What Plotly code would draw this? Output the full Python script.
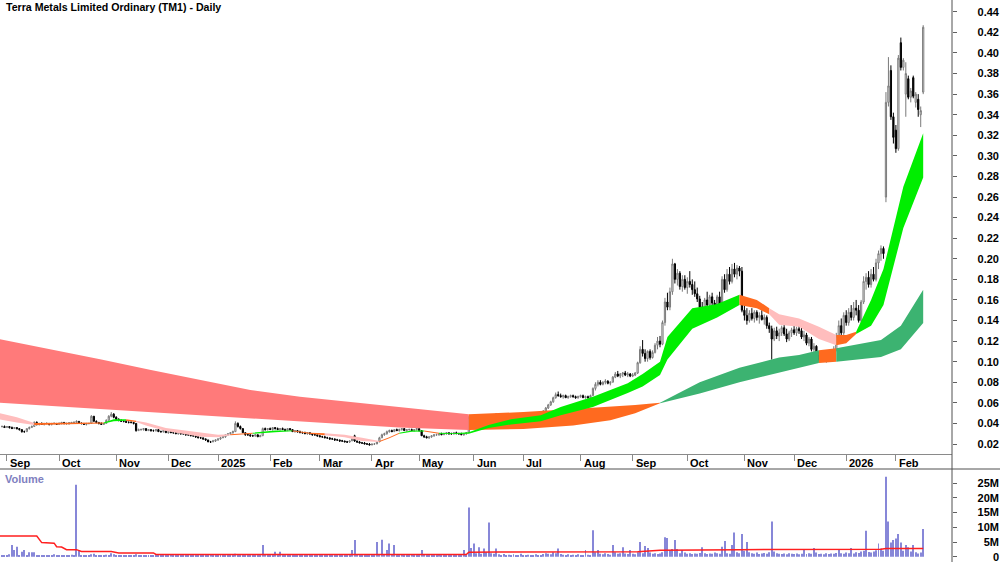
import pandas as pd
import plotly.graph_objects as go

# ---------------- data (prices in thousandths of a dollar) ----------------
HOLIDAYS = ["2024-12-25", "2024-12-26", "2025-01-01", "2025-01-27", "2025-04-18",
            "2025-04-21", "2025-04-25", "2025-06-09", "2025-12-25", "2025-12-26",
            "2026-01-01", "2026-01-26"]
MONTH_LABELS = ["Sep", "Oct", "Nov", "Dec", "2025", "Feb", "Mar", "Apr", "May", "Jun",
                "Jul", "Aug", "Sep", "Oct", "Nov", "Dec", "2026", "Feb"]

OPEN = [
    37,37,36,37,36,35,36,35,34,32, 32,35,36,37,41,39,40,39,40,40,
    39,40,40,39,40,41,40,40,40,41, 41,42,40,40,39,40,40,47,42,41,
    40,39,40,43,47,49,46,44,43,42, 42,41,41,41,40,33,34,34,35,33,
    34,33,33,34,32,32,33,31,32,31, 31,30,31,30,30,29,29,28,28,27,
    26,26,25,24,22,22,23,24,25,26, 27,29,30,31,32,40,37,35,31,29,
    29,28,28,29,27,28,35,34,35,34, 36,35,34,35,34,33,35,34,32,33,
    32,31,31,30,31,30,29,29,28,27, 27,26,26,25,25,24,24,23,23,22,
    22,23,28,23,22,21,21,20,20,19, 20,20,22,26,29,30,32,33,32,34,
    33,34,35,33,34,34,33,34,35,33, 28,27,26,27,28,29,29,30,29,30,
    31,30,30,31,30,30,29,30,31,46, 36,37,36,38,37,39,44,46,47,46,
    49,47,48,49,47,48,47,46,47,45, 42,43,45,46,46,47,46,48,49,52,
    55,58,61,65,68,67,66,67,65,66, 67,66,65,66,67,65,66,65,67,74,
    78,80,78,80,81,79,80,85,88,86, 88,89,87,88,86,87,89,99,112,108,
    103,110,104,109,116,120,117,138,158,153, 168,195,180,186,173,180,172,178,175,170,
    166,161,153,150,160,155,163,157,155,163, 156,180,170,185,178,190,185,191,188,150,
    145,140,147,142,148,143,145,141,143,135, 132,122,130,125,128,133,127,122,128,131,
    128,132,130,124,126,118,122,112,115,106, 102,105,101,104,103,106,112,125,135,128,
    145,138,148,143,152,150,140,158,178,182, 175,185,180,196,205,210,260,352,383,338,
    325,307,410,386,360,375,357,376,352,355, 340,362]
HIGH = [
    38,38,37,37,37,36,36,35,34,33, 35,37,38,42,42,40,41,40,41,40,
    40,41,40,41,41,41,40,41,41,42, 43,42,41,40,40,40,48,47,43,41,
    41,40,44,48,51,50,47,45,44,43, 43,42,42,41,40,35,35,35,35,34,
    34,34,34,34,33,33,33,32,33,32, 32,31,31,31,30,30,30,29,28,28,
    27,26,25,24,23,24,24,25,27,28, 29,30,31,33,42,41,38,35,31,30,
    29,29,29,29,29,36,36,35,36,36, 36,36,35,36,35,35,35,34,33,33,
    33,32,32,31,31,30,30,29,29,28, 28,27,26,26,25,25,24,24,23,23,
    23,26,29,23,23,22,22,21,21,20, 21,22,27,30,31,33,34,34,34,35,
    35,35,35,34,35,35,34,35,35,33, 29,28,27,28,29,30,30,31,31,31,
    31,31,31,32,31,31,30,31,47,46, 38,38,39,39,39,45,47,48,49,50,
    50,49,50,50,49,49,48,48,48,46, 44,46,47,47,48,48,48,50,53,56,
    59,62,66,70,71,69,68,68,67,68, 68,67,67,68,68,67,67,68,75,80,
    82,82,81,83,82,81,86,90,91,89, 90,91,90,89,89,90,100,115,121,112,
    111,112,111,118,124,125,140,162,167,172, 200,196,190,188,184,184,182,188,180,178,
    172,164,158,162,168,165,167,160,165,168, 183,185,190,192,195,196,194,193,192,160,
    152,150,152,150,150,148,150,146,145,138, 135,133,134,132,135,136,132,130,133,136,
    134,137,133,130,128,124,124,118,116,110, 108,108,106,108,108,115,128,140,142,148,
    150,152,155,158,160,155,160,183,186,188, 190,192,200,208,213,212,362,396,388,342,
    330,398,415,395,391,378,366,378,362,360, 348,427]
LOW = [
    36,36,36,35,35,35,34,33,31,31, 32,34,36,37,38,38,39,38,39,38,
    38,39,39,39,39,39,39,39,40,40, 40,40,39,39,38,39,40,42,40,39,
    39,39,40,43,46,45,43,42,42,41, 41,40,40,39,32,33,33,33,33,33,
    32,32,32,32,31,31,31,30,31,30, 30,29,29,29,28,28,28,27,26,26,
    25,24,23,22,21,22,22,23,24,26, 26,28,29,30,32,36,34,31,28,28,
    27,27,27,27,27,28,33,33,34,33, 34,34,33,34,33,33,33,32,31,31,
    31,30,30,29,29,28,28,27,27,26, 26,25,24,24,23,23,22,22,22,21,
    21,23,22,21,21,20,20,19,19,19, 19,20,22,26,28,29,31,32,32,33,
    32,33,33,32,33,33,32,33,32,28, 26,26,25,26,27,28,28,29,29,29,
    29,29,29,30,29,29,28,29,31,35, 35,35,36,36,36,38,43,44,45,45,
    46,46,47,47,46,46,45,45,45,41, 41,43,44,45,45,45,45,47,48,51,
    54,57,60,64,66,65,64,65,64,65, 65,64,64,65,65,64,64,65,67,72,
    76,77,77,78,78,77,80,84,85,84, 85,86,85,85,85,86,88,98,105,100,
    100,102,103,108,112,114,116,135,150,150, 165,176,174,170,168,170,166,172,165,163,
    158,150,147,148,153,152,155,152,153,153, 155,167,168,175,176,182,180,183,148,140,
    136,138,140,138,140,137,140,136,132,128, 102,120,122,120,125,125,119,120,124,126,
    125,127,122,120,116,115,110,108,104,100, 100,100,99,101,100,103,110,122,125,126,
    135,135,140,140,145,138,138,156,170,172, 172,178,178,190,198,200,255,348,335,312,
    303,305,383,383,338,355,352,356,347,338, 328,360]
CLOSE = [
    37,36,37,36,35,36,35,34,32,32, 35,36,37,41,39,40,39,40,40,39,
    40,40,39,40,41,40,40,40,41,41, 42,40,40,39,40,40,47,42,41,40,
    39,40,43,47,49,46,44,43,42,42, 41,41,41,40,33,34,34,35,33,34,
    33,33,34,32,32,33,31,32,31,31, 30,31,30,30,29,29,28,28,27,26,
    26,25,24,22,22,23,24,25,26,27, 29,30,31,32,40,37,35,31,29,29,
    28,28,29,27,28,35,34,35,34,36, 35,34,35,34,33,35,34,32,33,32,
    31,31,30,31,30,29,29,28,27,27, 26,26,25,25,24,24,23,23,22,22,
    23,25,23,22,21,21,20,20,19,20, 20,22,26,29,30,32,33,32,34,33,
    34,35,33,34,34,33,34,35,33,28, 27,26,27,28,29,29,30,29,30,31,
    30,30,31,30,30,29,30,31,46,36, 37,36,38,37,39,44,46,47,46,49,
    47,48,49,47,48,47,46,47,45,42, 43,45,46,46,47,46,48,49,52,55,
    58,61,65,68,67,66,67,65,66,67, 66,65,66,67,65,66,65,67,74,78,
    80,78,80,81,79,80,85,88,86,88, 89,87,88,86,87,89,99,112,108,103,
    110,104,109,116,120,117,138,158,153,168, 195,180,186,173,180,172,178,175,170,166,
    161,153,150,160,155,163,157,155,163,156, 180,170,185,178,190,185,191,188,150,145,
    140,147,142,148,143,145,141,143,135,132, 122,130,125,128,133,127,122,128,131,128,
    132,130,124,126,118,122,112,115,106,102, 105,101,104,103,106,112,125,135,128,145,
    138,148,143,152,150,140,158,178,182,175, 185,180,196,205,210,205,352,368,338,318,
    307,395,386,393,380,357,363,358,360,345, 344,425]
# volume in units of 100,000 shares
VOLUME = [
    6,4,5,8,40,23,34,5,17,23, 6,15,15,15,5,3,4,6,3,5,
    4,8,3,5,4,6,3,4,7,5, 245,23,6,4,5,3,8,10,6,4,
    3,5,7,4,12,8,5,4,3,5, 4,6,3,4,8,5,4,3,6,4,
    5,3,4,6,3,5,4,3,7,4, 5,3,4,6,3,4,5,3,4,6,
    3,5,4,3,8,4,5,3,6,4, 3,5,4,6,10,5,4,3,5,4,
    3,6,4,5,3,40,8,5,4,6, 17,5,17,4,6,3,5,4,3,6,
    4,5,3,4,6,3,5,4,3,5, 4,6,3,5,4,3,6,4,5,3,
    6,23,57,8,5,4,6,3,5,4, 6,50,9,58,8,23,45,7,40,6,
    5,8,4,6,5,7,4,5,6,23, 8,5,4,6,5,3,7,4,5,6,
    4,5,6,3,5,4,23,6,167,30, 45,12,32,10,28,15,116,12,10,28,
    8,6,9,5,7,6,8,5,4,10, 6,5,7,4,6,8,5,6,9,12,
    10,8,15,12,28,9,7,6,8,5, 7,6,8,5,6,23,7,6,90,15,
    23,10,8,12,9,7,40,15,10,12, 32,11,9,23,10,8,15,50,12,36,
    30,14,10,12,9,11,15,66,64,23, 26,57,26,12,23,14,10,12,9,11,
    10,13,32,12,9,11,10,14,12,10, 34,53,12,10,40,82,15,12,77,20,
    50,15,12,10,14,9,11,13,10,15, 120,18,12,10,9,11,8,12,10,9,
    11,8,10,26,9,12,10,30,14,9, 10,8,12,9,11,10,13,26,12,10,
    14,12,30,11,15,13,18,20,88,16, 14,18,22,45,28,20,272,120,48,57,
    62,77,48,20,40,32,18,40,15,11, 14,94]

# volume moving average (millions), read at sample days
VOL_MA_X = [-1, 14, 16, 21, 22, 24, 26, 30, 32, 44, 47, 61, 62, 187, 188, 200, 256, 265, 297, 354, 356, 371]
VOL_MA = [7.0, 7.0, 4.8, 4.6, 3.4, 3.3, 2.4, 2.4, 1.8, 1.8, 1.3, 1.3, 0.75, 0.75, 1.5, 1.6, 1.7, 2.2, 2.4, 2.5, 2.8, 2.8]

# short-term ribbon edges (thousandths), sampled
ST_X = [-1, 6, 13, 25, 41, 45, 50, 54, 58, 66, 80, 87, 92, 101, 110, 117, 124, 130, 138, 145,
        152, 156, 160, 165, 170, 176, 182, 188, 196, 205, 217, 225, 238, 252, 258, 265, 268, 278,
        288, 297, 304, 309, 313, 321, 329, 336, 340, 344, 350, 355, 363, 371]
ST_HI = [50, 46, 40.5, 40.5, 41, 44, 44, 42.5, 41, 35.5, 30.7, 29, 29.5, 31, 33, 33, 31, 30.5, 29, 26,
         23, 26.5, 31, 33, 33, 31, 30.5, 31.5, 38.5, 44, 48, 56, 66, 79, 88, 100, 124, 152,
         156, 165, 160, 152, 146, 142, 134, 126, 126, 129, 160, 190, 270, 322]
ST_LO = [44, 41, 38.5, 39.5, 40, 42, 42.5, 41.5, 38, 32.6, 27, 26.5, 28.5, 30, 31.5, 32.3, 30, 28.5, 26.5, 23,
         22, 25.5, 30, 32, 32.2, 30, 29.8, 30, 35.5, 39, 42, 48, 56, 69.6, 76, 87, 102, 132,
         143, 155, 152, 146, 136, 134, 122, 116, 118, 127, 135, 155, 230, 279]
ST_SEGS = [(-1, 13, "bear"), (13, 41, "turn"), (41, 50, "bull"), (50, 54, "turn"), (54, 92, "bear"),
           (92, 101, "turn"), (101, 117, "bull"), (117, 130, "turn"), (130, 152, "bear"),
           (152, 160, "turn"), (160, 170, "bull"), (170, 176, "turn"), (176, 297, "bull"),
           (297, 309, "turn"), (309, 336, "bear"), (336, 344, "turn"), (344, 371, "bull")]

# long-term ribbon edges (thousandths), sampled
LT_X = [-1, 20, 40, 60, 80, 100, 120, 140, 160, 188, 210, 230, 245, 255, 265, 281, 297, 313, 321,
        329, 336, 354, 362, 371]
LT_HI = [122, 112, 102, 92, 82, 72.5, 66, 61, 56, 49, 51, 54, 56, 58, 60, 80, 94, 104, 106.5,
         111, 113, 121, 135, 170]
LT_LO = [60, 57, 54, 51, 48, 44.3, 42, 39, 36, 33.5, 34.5, 38, 43, 50, 59.5, 69, 80, 90, 94,
         98.7, 100, 104.5, 112, 137.5]
LT_SEGS = [(-1, 188, "bear"), (188, 265, "turn"), (265, 329, "bull"), (329, 336, "turn"), (336, 371, "bull")]

# ---------------- styles ----------------
ST_COLORS = {"bear": "#ffbdbd", "turn": "#ff6a1f", "bull": "#00ee00"}
LT_COLORS = {"bear": "#ff7a7a", "turn": "#ff6a1f", "bull": "#3cb371"}
FONT = "Liberation Sans, Arial, sans-serif"
W, H = 1000, 562
PLOT_RIGHT = 952 / W
PRICE_BOTTOM = 1 - 454 / H
VOL_TOP = 1 - 469 / H

dates = [d for d in pd.bdate_range("2024-08-29", "2026-02-17") if d.strftime("%Y-%m-%d") not in HOLIDAYS]
X = list(range(len(dates)))
assert len(X) == len(OPEN) == len(HIGH) == len(LOW) == len(CLOSE) == len(VOLUME), (len(X), len(OPEN), len(HIGH), len(LOW), len(CLOSE), len(VOLUME))
month_idx = [k for k in range(1, len(dates)) if dates[k].month != dates[k - 1].month]

fig = go.Figure()


def add_band(xs, hi, lo, segs, colors):
    for a, b, kind in segs:
        ks = [k for k in range(len(xs)) if a <= xs[k] <= b]
        px = [xs[k] for k in ks] + [xs[k] for k in reversed(ks)]
        py = [hi[k] / 1000 for k in ks] + [lo[k] / 1000 for k in reversed(ks)]
        fig.add_trace(go.Scatter(x=px, y=py, fill="toself", fillcolor=colors[kind], mode="lines",
                                 line=dict(width=0, color=colors[kind]), hoverinfo="skip",
                                 showlegend=False, xaxis="x", yaxis="y"))


add_band(LT_X, LT_HI, LT_LO, LT_SEGS, LT_COLORS)
add_band(ST_X, ST_HI, ST_LO, ST_SEGS, ST_COLORS)

fig.add_trace(go.Candlestick(
    x=X, open=[v / 1000 for v in OPEN], high=[v / 1000 for v in HIGH],
    low=[v / 1000 for v in LOW], close=[v / 1000 for v in CLOSE],
    increasing=dict(line=dict(color="#7a7a7a", width=1), fillcolor="#ffffff"),
    decreasing=dict(line=dict(color="#000000", width=1), fillcolor="#000000"),
    whiskerwidth=0, showlegend=False, hoverinfo="skip", xaxis="x", yaxis="y"))

fig.add_trace(go.Bar(x=X, y=[v * 1e5 for v in VOLUME], width=0.4,
                     marker=dict(color="#8787d8", line=dict(width=0)),
                     showlegend=False, hoverinfo="skip", xaxis="x2", yaxis="y2"))
fig.add_trace(go.Scatter(x=VOL_MA_X, y=[v * 1e6 for v in VOL_MA], mode="lines",
                         line=dict(color="#ff1f1f", width=1.5), showlegend=False,
                         hoverinfo="skip", xaxis="x2", yaxis="y2"))
# invisible traces to carry the label axes
fig.add_trace(go.Scatter(x=[None], y=[None], xaxis="x", yaxis="y3", showlegend=False))
fig.add_trace(go.Scatter(x=[None], y=[None], xaxis="x2", yaxis="y4", showlegend=False))

xr = [(0 - 2) / 2.483, (952 - 2) / 2.483]
price_ticks = [round(0.02 * k, 2) for k in range(1, 23)]
vol_ticks = [0, 5e6, 10e6, 15e6, 20e6, 25e6]
vol_text = ["0", "5M", "10M", "15M", "20M", "25M"]
yr = [0.02 - 10 / 1029, 0.02 + 444 / 1029]
vr = [-(562 - 556.7) / 2.94 * 1e6, (556.7 - 469) / 2.94 * 1e6]

fig.update_layout(
    width=W, height=H, margin=dict(l=0, r=0, t=0, b=0),
    paper_bgcolor="white", plot_bgcolor="white",
    font=dict(family=FONT, size=11, color="black"),
    showlegend=False,
    xaxis=dict(domain=[0, PLOT_RIGHT], range=xr, anchor="y", tickvals=month_idx, ticks="outside",
               ticklen=6, tickcolor="#8a8a8a", showticklabels=False, showline=True,
               linecolor="#8a8a8a", linewidth=1, showgrid=False, zeroline=False,
               rangeslider=dict(visible=False)),
    xaxis2=dict(domain=[0, PLOT_RIGHT], range=xr, anchor="y2", showticklabels=False,
                showgrid=False, zeroline=False, ticks=""),
    yaxis=dict(domain=[PRICE_BOTTOM, 1], range=yr, anchor="x", side="right", tickvals=price_ticks,
               ticks="outside", ticklen=4, tickcolor="#606060", showticklabels=False,
               showgrid=False, zeroline=False),
    yaxis3=dict(overlaying="y", anchor="free", position=0.999, side="left", range=yr,
                tickvals=price_ticks, ticktext=["%.2f" % v for v in price_ticks], ticks="",
                tickfont=dict(family=FONT, size=11, color="black", weight="bold"),
                ticklabeloverflow="allow",
                showgrid=False, zeroline=False, showline=False),
    yaxis2=dict(domain=[0, VOL_TOP], range=vr, anchor="x2", side="right", tickvals=vol_ticks,
                ticks="outside", ticklen=4, tickcolor="#606060", showticklabels=False,
                showgrid=False, zeroline=False),
    yaxis4=dict(overlaying="y2", anchor="free", position=0.999, side="left", range=vr,
                tickvals=vol_ticks, ticktext=vol_text, ticks="",
                tickfont=dict(family=FONT, size=11, color="black", weight="bold"),
                ticklabeloverflow="allow",
                showgrid=False, zeroline=False, showline=False),
)

shapes = [
    dict(type="line", xref="paper", yref="paper", x0=PLOT_RIGHT, x1=PLOT_RIGHT, y0=0, y1=1,
         line=dict(color="#505050", width=1)),
    dict(type="line", xref="paper", yref="paper", x0=0, x1=1, y0=VOL_TOP, y1=VOL_TOP,
         line=dict(color="#505050", width=1)),
]
fig.update_layout(shapes=shapes)

annotations = [
    dict(text="Terra Metals Limited Ordinary (TM1) - Daily", xref="paper", yref="paper",
         x=4 / W, y=1 - 7 / H, xanchor="left", yanchor="middle", showarrow=False,
         font=dict(family=FONT, size=10.6, color="black", weight="bold")),
    dict(text="Volume", xref="paper", yref="paper", x=3 / W, y=1 - 479 / H, xanchor="left",
         yanchor="middle", showarrow=False,
         font=dict(family=FONT, size=11, color="#8080c0", weight="bold")),
]
for k, lab in zip(month_idx, MONTH_LABELS):
    annotations.append(dict(text=lab, x=k, xref="x", yref="paper", y=1 - 462.5 / H,
                            xanchor="left", yanchor="middle", xshift=1, showarrow=False,
                            font=dict(family=FONT, size=11, color="black", weight="bold")))
fig.update_layout(annotations=annotations)

fig.write_html("out.html")
